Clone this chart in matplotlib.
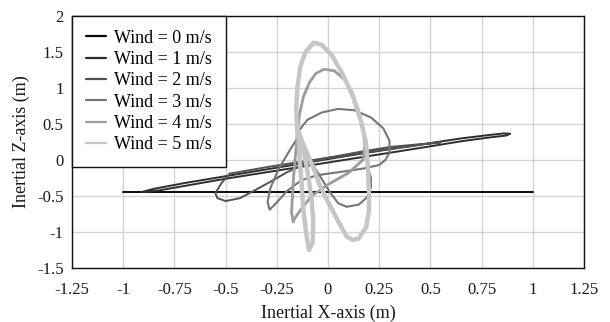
import matplotlib
matplotlib.use("Agg")
import matplotlib.pyplot as plt
from matplotlib.ticker import FixedLocator, FixedFormatter

plt.rcParams['font.family'] = ['Liberation Serif', 'DejaVu Serif']

# ---------------- data ----------------
labels = ["Wind = 0 m/s", "Wind = 1 m/s", "Wind = 2 m/s",
          "Wind = 3 m/s", "Wind = 4 m/s", "Wind = 5 m/s"]

w0_x = [-1.0, 1.0]
w0_z = [-0.445, -0.445]

w1_x = [-0.91, -0.85, -0.70, -0.50, -0.30, -0.10, 0.10, 0.30, 0.50, 0.65, 0.78, 0.86, 0.89,
        0.87, 0.78, 0.65, 0.50, 0.30, 0.10, -0.10, -0.30, -0.50, -0.70, -0.82, -0.89, -0.91]
w1_z = [-0.445, -0.40, -0.32, -0.225, -0.13, -0.035, 0.06, 0.15, 0.235, 0.30, 0.345, 0.37, 0.365,
        0.34, 0.31, 0.26, 0.19, 0.10, 0.01, -0.08, -0.17, -0.26, -0.36, -0.42, -0.445, -0.445]

w2_x = [-0.48, -0.40, -0.28, -0.10, 0.10, 0.30, 0.45, 0.52, 0.55, 0.53, 0.45, 0.30, 0.15, 0.00,
        -0.10, -0.20, -0.28, -0.37, -0.43, -0.50, -0.54, -0.55, -0.52, -0.48]
w2_z = [-0.19, -0.15, -0.09, -0.01, 0.07, 0.15, 0.21, 0.24, 0.245, 0.235, 0.22, 0.18, 0.11, 0.03,
        -0.04, -0.17, -0.30, -0.44, -0.53, -0.57, -0.53, -0.46, -0.32, -0.19]

w3_x = [-0.15, -0.10, -0.03, 0.05, 0.13, 0.21, 0.27, 0.30, 0.30, 0.28, 0.25, 0.17, 0.05, -0.05,
        -0.13, -0.20, -0.26, -0.285, -0.295, -0.28, -0.24, -0.19, -0.15, -0.10, -0.04, 0.01,
        0.05, 0.09, 0.15, 0.19, 0.21, 0.21, 0.20]
w3_z = [0.38, 0.56, 0.66, 0.71, 0.69, 0.59, 0.44, 0.27, 0.10, 0.00, -0.07, -0.12, -0.17, -0.21,
        -0.28, -0.43, -0.62, -0.69, -0.58, -0.38, -0.12, 0.12, 0.30, 0.05, -0.22, -0.45,
        -0.60, -0.65, -0.62, -0.52, -0.38, -0.25, -0.16]

w4_x = [-0.15, -0.14, -0.12, -0.09, -0.06, -0.02, 0.03, 0.08, 0.12, 0.15, 0.17, 0.18, 0.17,
        0.10, 0.00, -0.08, -0.13, -0.16, -0.17, -0.178, -0.172, -0.165, -0.155, -0.15]
w4_z = [0.38, 0.62, 0.88, 1.08, 1.20, 1.26, 1.24, 1.12, 0.92, 0.68, 0.45, 0.20, 0.00,
        -0.18, -0.34, -0.50, -0.68, -0.80, -0.86, -0.72, -0.42, -0.12, 0.18, 0.38]

w5_x = [-0.15, -0.155, -0.15, -0.135, -0.11, -0.07, -0.03, 0.02, 0.07, 0.12, 0.16, 0.185, 0.195,
        0.20, 0.20, 0.187, 0.15, 0.12, 0.09, 0.05, 0.00, -0.04, -0.07, -0.10, -0.125, -0.145,
        -0.14, -0.13, -0.12, -0.105, -0.093, -0.075, -0.072, -0.08, -0.098, -0.12, -0.15]
w5_z = [0.38, 0.70, 1.00, 1.30, 1.50, 1.63, 1.60, 1.45, 1.20, 0.90, 0.55, 0.25, -0.10,
        -0.45, -0.70, -0.93, -1.09, -1.11, -1.06, -0.85, -0.58, -0.35, -0.12, 0.08, 0.25, 0.40,
        0.10, -0.30, -0.70, -1.05, -1.25, -1.15, -0.85, -0.55, -0.19, 0.14, 0.40]

xticks = [-1.25, -1.0, -0.75, -0.5, -0.25, 0.0, 0.25, 0.5, 0.75, 1.0, 1.25]
xtick_labels = ["-1.25", "-1", "-0.75", "-0.5", "-0.25", "0", "0.25", "0.5", "0.75", "1", "1.25"]
yticks = [-1.5, -1.0, -0.5, 0.0, 0.5, 1.0, 1.5, 2.0]
ytick_labels = ["-1.5", "-1", "-0.5", "0", "0.5", "1", "1.5", "2"]

# ---------------- styling ----------------
series = [(w0_x, w0_z), (w1_x, w1_z), (w2_x, w2_z), (w3_x, w3_z), (w4_x, w4_z), (w5_x, w5_z)]
colors = ["#0a0a0a", "#2e2e2e", "#525252", "#767676", "#9c9c9c", "#c6c6c6"]
widths = [1.4, 1.4, 1.4, 1.5, 2.0, 3.2]

fig = plt.figure(figsize=(6.10, 3.22), dpi=100)
ax = fig.add_axes([72 / 610, 54 / 322, 512 / 610, 252 / 322])

for (xs, zs), c, lw, lab in zip(series, colors, widths, labels):
    ax.plot(xs, zs, color=c, lw=lw, label=lab, solid_joinstyle='round', solid_capstyle='round')

ax.set_xlim(-1.25, 1.25)
ax.set_ylim(-1.5, 2.0)
ax.xaxis.set_major_locator(FixedLocator(xticks))
ax.xaxis.set_major_formatter(FixedFormatter(xtick_labels))
ax.yaxis.set_major_locator(FixedLocator(yticks))
ax.yaxis.set_major_formatter(FixedFormatter(ytick_labels))
ax.tick_params(length=0, labelsize=12, colors="#1a1a1a")
ax.tick_params(axis='x', pad=10)
ax.tick_params(axis='y', pad=6)
ax.grid(True, color="#d4d4d4", lw=1.0)
ax.set_axisbelow(True)
for s in ax.spines.values():
    s.set_color("#111111")
    s.set_linewidth(1.0)

ax.set_xlabel("Inertial X-axis (m)", fontsize=13, color="#1a1a1a", labelpad=5)
ax.set_ylabel("Inertial Z-axis (m)", fontsize=13, color="#1a1a1a", labelpad=5)

leg = ax.legend(loc="upper left", bbox_to_anchor=(0, 1), borderaxespad=0, fontsize=13,
                frameon=True, fancybox=False, edgecolor="#111111", framealpha=1,
                handlelength=1.15, handletextpad=0.45, labelspacing=0.24, borderpad=0.75)
leg.get_frame().set_linewidth(1.0)
for h in leg.get_lines():
    h.set_linewidth(1.6)

fig.savefig("out.png", dpi=100)
